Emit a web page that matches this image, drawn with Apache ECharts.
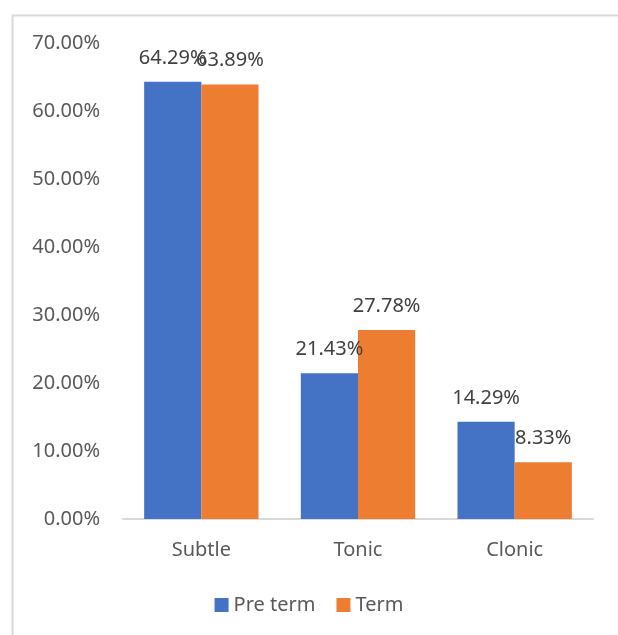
<!DOCTYPE html>
<html>
<head>
<meta charset="utf-8">
<script src="https://cdn.jsdelivr.net/npm/echarts@6/dist/echarts.min.js"></script>
<style>
html,body{margin:0;padding:0;background:#fff;}
#c{width:618px;height:635px;}
</style>
</head>
<body>
<div id="c"></div>
<script>
const categories = ['Subtle', 'Tonic', 'Clonic'];
const preTerm = [64.29, 21.43, 14.29];
const term = [63.89, 27.78, 8.33];
const seriesNames = ['Pre term', 'Term'];

const FONT = '"Noto Sans", sans-serif';
const chart = echarts.init(document.getElementById('c'), null, {renderer: 'canvas'});
const labelCfg = {
  show: true, position: 'top', distance: 14,
  formatter: p => p.value.toFixed(2) + '%',
  color: '#404040', fontSize: 20, fontFamily: FONT
};
chart.setOption({
  animation: false,
  backgroundColor: '#fff',
  graphic: [{
    type: 'rect', left: 10, top: 13,
    shape: {width: 620, height: 640},
    style: {fill: 'none', stroke: '#d9d9d9', lineWidth: 2},
    silent: true
  }],
  grid: {left: 123, right: 25, top: 43, bottom: 116, containLabel: false},
  legend: {
    data: seriesNames, bottom: 15, left: 'center',
    itemWidth: 14, itemHeight: 14, itemGap: 21, icon: 'rect',
    textStyle: {color: '#595959', fontSize: 20, fontFamily: FONT}
  },
  xAxis: {
    type: 'category', data: categories,
    axisLine: {show: true, lineStyle: {color: '#d9d9d9', width: 2}},
    axisTick: {show: false},
    axisLabel: {color: '#595959', fontSize: 20, fontFamily: FONT, margin: 21}
  },
  yAxis: {
    type: 'value', min: 0, max: 70, interval: 10,
    axisLine: {show: false}, axisTick: {show: false},
    splitLine: {show: false},
    axisLabel: {color: '#595959', fontSize: 20, fontFamily: FONT, margin: 23,
      formatter: v => v.toFixed(2) + '%'}
  },
  series: [
    {name: seriesNames[0], type: 'bar', data: preTerm, barGap: '0%', barCategoryGap: '27%',
     itemStyle: {color: '#4472C4'}, label: labelCfg},
    {name: seriesNames[1], type: 'bar', data: term, barGap: '0%', barCategoryGap: '27%',
     itemStyle: {color: '#ED7D31'}, label: labelCfg}
  ]
});
</script>
</body>
</html>
